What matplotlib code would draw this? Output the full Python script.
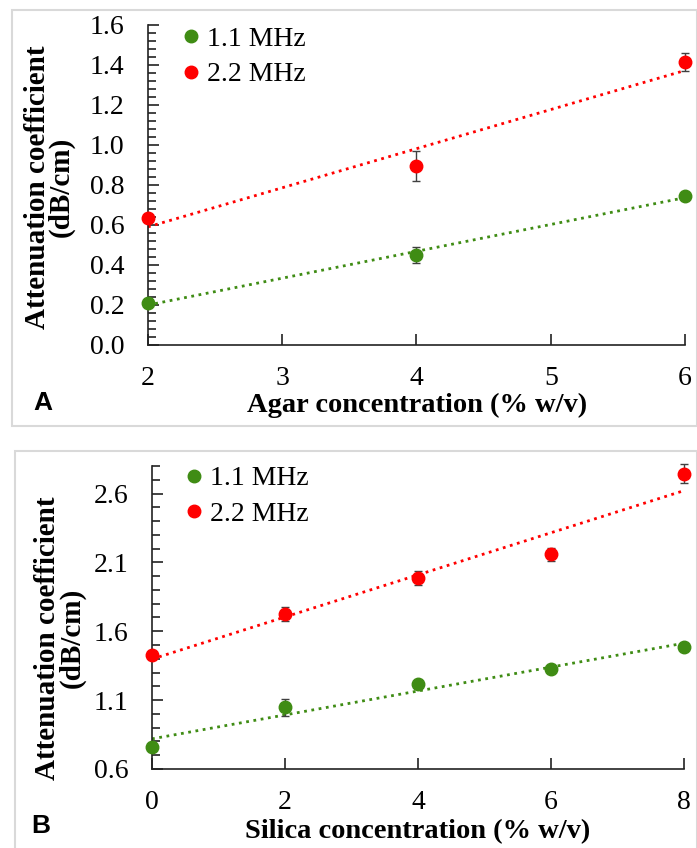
import numpy as np
import matplotlib
matplotlib.use('Agg')
import matplotlib.pyplot as plt
from matplotlib.patches import Rectangle
from matplotlib.lines import Line2D
from matplotlib.ticker import MultipleLocator

plt.rcParams['font.family'] = ['Liberation Serif', 'DejaVu Serif']

# Panel A - agar
agar_x = [2, 4, 6]
agar_11 = [0.21, 0.448, 0.747]
agar_11_err = [0.02, 0.04, 0.02]
agar_22 = [0.633, 0.897, 1.415]
agar_22_err = [0.02, 0.075, 0.045]

# Panel B - silica
silica_x = [0, 2, 4, 6, 8]
silica_11 = [0.757, 1.047, 1.216, 1.325, 1.486]
silica_11_err = [0.02, 0.06, 0.03, 0.02, 0.02]
silica_22 = [1.431, 1.728, 1.986, 2.158, 2.745]
silica_22_err = [0.025, 0.05, 0.05, 0.05, 0.072]

labels = ['1.1 MHz', '2.2 MHz']
GREEN = '#3f8c14'
RED = '#ff0000'
ERR = '#404040'
FS = 20

W, H = 697, 848
fig = plt.figure(figsize=(W / 100, H / 100), dpi=100)

def fig_rect(l, t, r, b):
    return [l / W, 1 - b / H, (r - l) / W, (b - t) / H]

axA = fig.add_axes(fig_rect(148, 25, 685, 345))
axB = fig.add_axes(fig_rect(152, 466, 684, 769))

def draw(ax, x, y1, e1, y2, e2):
    x = np.asarray(x, float)
    for y, e, c in [(y1, e1, GREEN), (y2, e2, RED)]:
        # linear trendline
        p = np.polyfit(x, y, 1)
        xs = np.array([x.min(), x.max()])
        ax.plot(xs, np.polyval(p, xs), ':', color=c, lw=2, zorder=2)
        ax.errorbar(x, y, yerr=e, fmt='none', ecolor=ERR, elinewidth=1,
                    capsize=3, capthick=1, clip_on=False, zorder=2.5)
        ax.plot(x, y, 'o', color=c, ms=9, clip_on=False, zorder=3)
    for s in ['top', 'right']:
        ax.spines[s].set_visible(False)
    for s in ['left', 'bottom']:
        ax.spines[s].set_color('#222222')
        ax.spines[s].set_linewidth(1.2)
    ax.tick_params(which='major', direction='in', length=8, width=1.2,
                   labelsize=FS, color='#222222')
    ax.tick_params(axis='y', which='major', pad=17)
    ax.tick_params(axis='x', which='major', pad=15)
    ax.tick_params(which='minor', direction='in', length=6, width=1.2,
                   color='#222222')
    ax.tick_params(axis='x', which='minor', length=0)

def labels_for(ax, xlab, xpos, ypos):
    ax.set_xlabel(xlab, fontsize=20.5, fontweight='bold')
    ax.set_ylabel('Attenuation coefficient\n(dB/cm)', fontsize=21,
                  fontweight='bold', linespacing=0.85)
    ax.xaxis.label.set_va('center')
    ax.yaxis.label.set_va('center')
    ax.xaxis.set_label_coords(*xpos)
    ax.yaxis.set_label_coords(*ypos)

draw(axA, agar_x, agar_11, agar_11_err, agar_22, agar_22_err)
axA.set_xlim(2, 6)
axA.set_ylim(0, 1.6)
axA.yaxis.set_minor_locator(MultipleLocator(0.04))
axA.xaxis.set_major_locator(MultipleLocator(1))
axA.set_yticks(np.arange(0, 1.61, 0.2))
axA.set_yticklabels(['%.1f' % v for v in np.arange(0, 1.61, 0.2)])
labels_for(axA, 'Agar concentration (% w/v)', (0.501, -0.19), (-0.184, 0.494))

draw(axB, silica_x, silica_11, silica_11_err, silica_22, silica_22_err)
axB.set_xlim(0, 8)
axB.set_ylim(0.6, 2.8)
axB.set_yticks([0.6, 1.1, 1.6, 2.1, 2.6])
axB.yaxis.set_minor_locator(MultipleLocator(0.1))
axB.set_xticks([0, 2, 4, 6, 8])
labels_for(axB, 'Silica concentration (% w/v)', (0.5, -0.208), (-0.173, 0.432))

for ax, anchor, sp in [(axA, (0.065, 0.996), 0.37), (axB, (0.064, 1.0), 0.35)]:
    handles = [Line2D([], [], marker='o', ls='', color=c, ms=9) for c in (GREEN, RED)]
    ax.legend(handles, labels, loc='upper left', bbox_to_anchor=anchor,
              frameon=False, fontsize=FS, handlelength=0.6, handletextpad=0.25,
              borderpad=0, borderaxespad=0, labelspacing=sp)

# panel frames
fig.patches.append(Rectangle((12 / W, 1 - 426 / H), (W - 12) / W, (426 - 10) / H,
                             transform=fig.transFigure, fill=False,
                             edgecolor='#d9d9d9', lw=1.5))
fig.patches.append(Rectangle((15 / W, 1 - 860 / H), (W - 15) / W, (860 - 451) / H,
                             transform=fig.transFigure, fill=False,
                             edgecolor='#d9d9d9', lw=1.5))

fig.text(43 / W, 1 - 403 / H, 'A', fontsize=19, fontweight='bold',
         family='Liberation Sans', ha='center', va='center')
fig.text(41 / W, 1 - 826 / H, 'B', fontsize=19, fontweight='bold',
         family='Liberation Sans', ha='center', va='center')

fig.savefig('out.png', dpi=100)
